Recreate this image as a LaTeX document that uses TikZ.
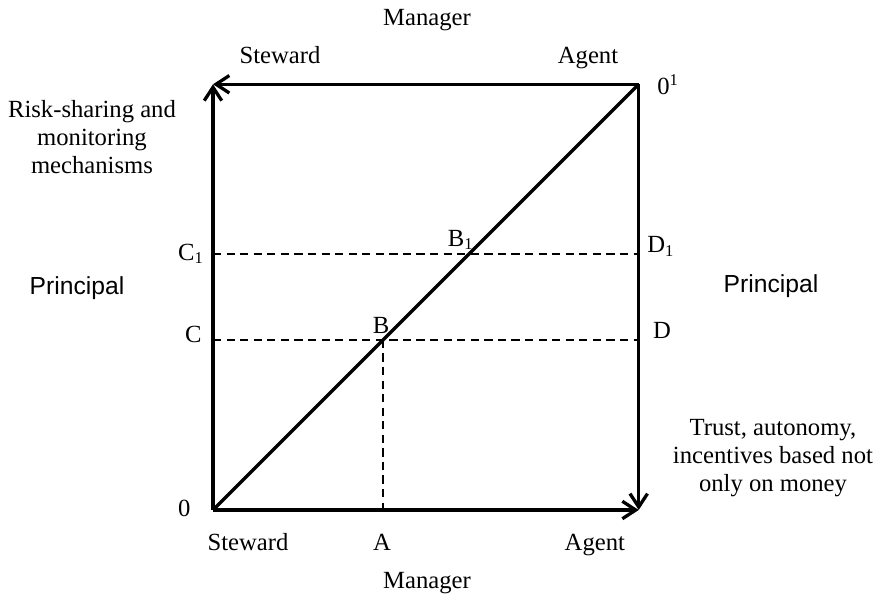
\documentclass[tikz,border=0pt]{standalone}
\usepackage{fontspec}
\setmainfont{Liberation Serif}
\newfontfamily\sansfont{Liberation Sans}
\usetikzlibrary{arrows.meta}

\begin{document}
\begin{tikzpicture}[
  frame/.style={line width=1.6pt, line cap=butt,
    -{Straight Barb[length=6.5pt, width=8.5pt, line width=1.6pt]}},
  diag/.style={line width=1.6pt},
  guide/.style={line width=0.9pt, dash pattern=on 4pt off 2.6pt},
  tag/.style={font=\fontsize{12}{13.5}\selectfont, inner sep=0pt},
  note/.style={font=\fontsize{12}{13.5}\selectfont, inner sep=0pt, align=center},
]

% Square dimensions
\def\side{7.28}   % side of the square
\def\cy{2.91}     % level of C, B, D
\def\cyy{4.38}    % level of C1, B1, D1

% fixed frame of the page
\useasboundingbox (-3.642, -1.471) rectangle (11.286, 8.721);

% ============================================================
% CORNERS AND POINTS
% ============================================================
\coordinate (O)  at (0, 0);
\coordinate (O1) at (\side, \side);
\coordinate (TL) at (0, \side);
\coordinate (BR) at (\side, 0);

\coordinate (Cl)  at (0, \cy);
\coordinate (Dr)  at (\side, \cy);
\coordinate (Bp)  at (\cy, \cy);
\coordinate (Ap)  at (\cy, 0);
\coordinate (C1l) at (0, \cyy);
\coordinate (D1r) at (\side, \cyy);

% ============================================================
% AXES
% ============================================================
\draw[frame] (O) -- (TL);
\draw[frame] (O1) -- (TL);
\draw[frame] (O) -- (BR);
\draw[frame] (O1) -- (BR);
\draw[diag] (O) -- (O1);

% dashed guides
\draw[guide] (C1l) -- (D1r);
\draw[guide] (Cl) -- (Dr);
\draw[guide] (Bp) -- (Ap);

% ============================================================
% POINT LABELS
% ============================================================
\node[tag, anchor=east] (zero) at (-0.38, 0.03) {0};
\node[tag, anchor=base west] (zeroone) at (7.59, 7.10) {0\textsuperscript{1}};
\node[tag, anchor=base east] (labC1) at (-0.15, 4.275) {C\textsubscript{1}};
\node[tag, anchor=base east] (labC) at (-0.19, 2.856) {C};
\node[tag, anchor=base west] (labD1) at (7.42, 4.395) {D\textsubscript{1}};
\node[tag, anchor=base west] (labD) at (7.52, 2.94) {D};
\node[tag, anchor=base] (labB) at (2.873, 3.01) {B};
\node[tag, anchor=base east] (labB1) at (4.463, 4.514) {B\textsubscript{1}};
\node[tag, anchor=base] (labA) at (2.89, -0.69) {A};

% ============================================================
% SIDE LABELS
% ============================================================
\node[tag] (mgrtop) at (3.659, 8.379) {Manager};
\node[tag, anchor=base] (stwtop) at (1.146, 7.636) {Steward};
\node[tag, anchor=base] (agttop) at (6.413, 7.636) {Agent};

\node[tag, anchor=base] (stwbot) at (0.599, -0.69) {Steward};
\node[tag, anchor=base] (agtbot) at (6.53, -0.69) {Agent};
\node[tag] (mgrbot) at (3.659, -1.248) {Manager};

\node[tag, font=\fontsize{12}{13.5}\sansfont] (prleft) at (-2.326, 3.796) {Principal};
\node[tag, font=\fontsize{12}{13.5}\sansfont] (prright) at (9.542, 3.83) {Principal};

\node[note] (risk) at (-2.069, 6.378)
  {Risk-sharing and\\monitoring\\mechanisms};
\node[note] (trust) at (9.576, 0.889)
  {Trust, autonomy,\\incentives based not\\only on money};

\end{tikzpicture}
\end{document}
